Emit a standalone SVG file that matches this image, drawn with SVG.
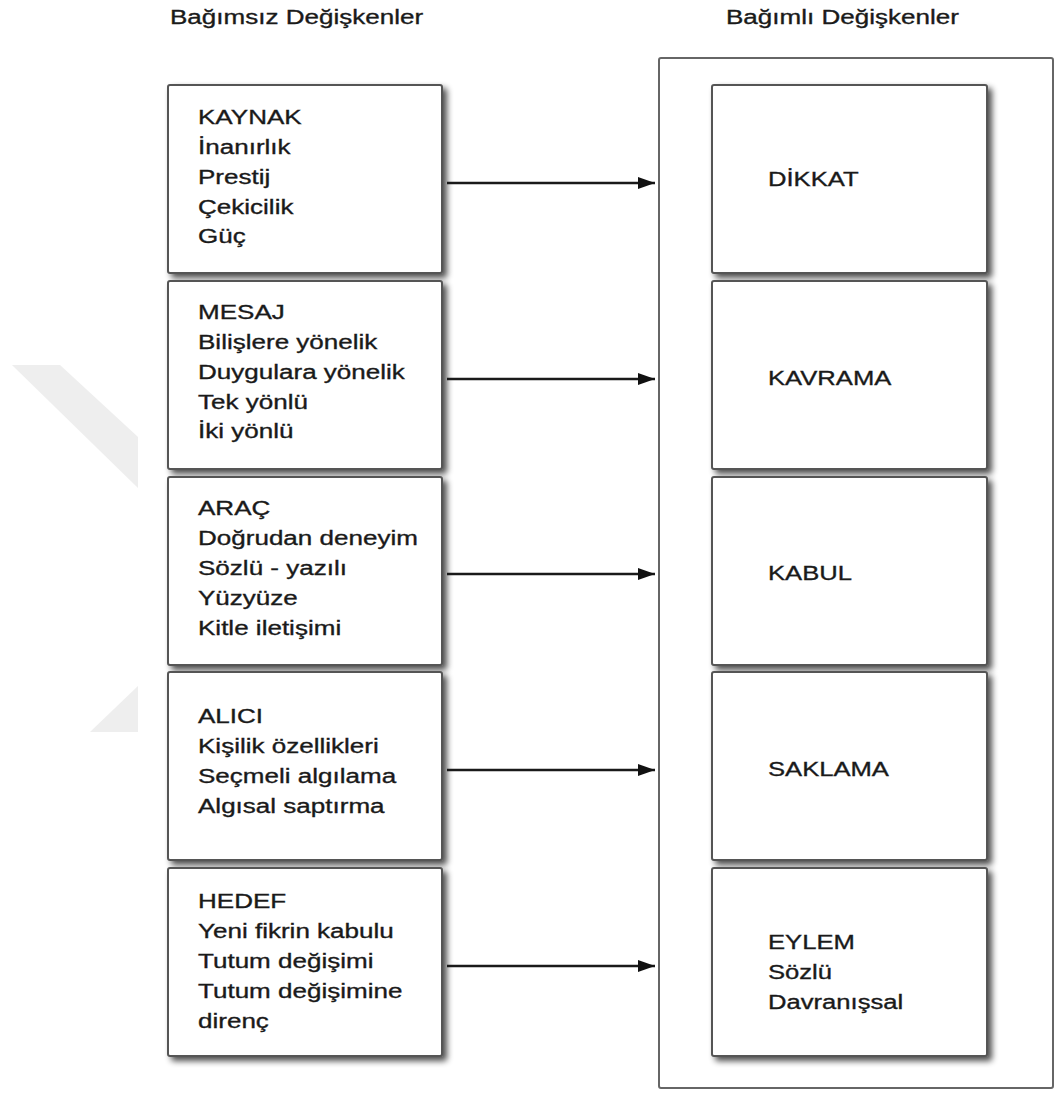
<svg xmlns="http://www.w3.org/2000/svg" width="1056" height="1093" viewBox="0 0 1056 1093">
  <defs>
    <filter id="sh" x="-10%" y="-10%" width="130%" height="130%">
      <feGaussianBlur in="SourceAlpha" stdDeviation="3"/>
      <feOffset dx="4" dy="4" result="b"/>
      <feComponentTransfer><feFuncA type="linear" slope="0.7"/></feComponentTransfer>
      <feMerge><feMergeNode/><feMergeNode in="SourceGraphic"/></feMerge>
    </filter>
    <marker id="ah" markerWidth="17" markerHeight="12" refX="17" refY="6" orient="auto" markerUnits="userSpaceOnUse">
      <path d="M0,0 L17,6 L0,12 z" fill="#111"/>
    </marker>
  </defs>
  <style>
    .box { fill: #ffffff; stroke: #555555; stroke-width: 2; filter: url(#sh); }
    .frame { fill: #ffffff; stroke: #666666; stroke-width: 2; }
    .t { font-family: "Liberation Sans", Arial, sans-serif; font-size: 21px; fill: #1a1a1a; stroke: #1a1a1a; stroke-width: 0.35; }
    .wm { fill: #eeeeee; }
    .conn { stroke: #1a1a1a; stroke-width: 2.5; fill: none; marker-end: url(#ah); }
  </style>
  <rect width="1056" height="1093" fill="#ffffff"/>

  <g id="watermark">
    <polygon class="wm" points="12,365 60,365 138,437 138,488"/>
    <polygon class="wm" points="90,732 138,686 138,732"/>
  </g>

  <g id="titles">
    <text class="t" transform="translate(170 0) scale(1.24 1)"><tspan x="0" y="24">Bağımsız Değişkenler</tspan></text>
    <text class="t" transform="translate(726 0) scale(1.24 1)"><tspan x="0" y="24">Bağımlı Değişkenler</tspan></text>
  </g>

  <g id="dependent-frame">
    <rect class="frame" x="659" y="58" width="394" height="1030" rx="2"/>
  </g>

  <g id="kaynak">
    <rect class="box" x="168" y="85" width="274" height="188" rx="2"/>
    <text class="t" transform="translate(198 0) scale(1.24 1)"><tspan x="0" y="124">KAYNAK</tspan><tspan x="0" y="154">İnanırlık</tspan><tspan x="0" y="184">Prestij</tspan><tspan x="0" y="214">Çekicilik</tspan><tspan x="0" y="243">Güç</tspan></text>
  </g>
  <g id="mesaj">
    <rect class="box" x="168" y="281" width="274" height="188" rx="2"/>
    <text class="t" transform="translate(198 0) scale(1.24 1)"><tspan x="0" y="319">MESAJ</tspan><tspan x="0" y="349">Bilişlere yönelik</tspan><tspan x="0" y="379">Duygulara yönelik</tspan><tspan x="0" y="409">Tek yönlü</tspan><tspan x="0" y="438">İki yönlü</tspan></text>
  </g>
  <g id="arac">
    <rect class="box" x="168" y="477" width="274" height="188" rx="2"/>
    <text class="t" transform="translate(198 0) scale(1.24 1)"><tspan x="0" y="515">ARAÇ</tspan><tspan x="0" y="545">Doğrudan deneyim</tspan><tspan x="0" y="575">Sözlü - yazılı</tspan><tspan x="0" y="605">Yüzyüze</tspan><tspan x="0" y="635">Kitle iletişimi</tspan></text>
  </g>
  <g id="alici">
    <rect class="box" x="168" y="672" width="274" height="188" rx="2"/>
    <text class="t" transform="translate(198 0) scale(1.24 1)"><tspan x="0" y="723">ALICI</tspan><tspan x="0" y="753">Kişilik özellikleri</tspan><tspan x="0" y="783">Seçmeli algılama</tspan><tspan x="0" y="813">Algısal saptırma</tspan></text>
  </g>
  <g id="hedef">
    <rect class="box" x="168" y="868" width="274" height="188" rx="2"/>
    <text class="t" transform="translate(198 0) scale(1.24 1)"><tspan x="0" y="908">HEDEF</tspan><tspan x="0" y="938">Yeni fikrin kabulu</tspan><tspan x="0" y="968">Tutum değişimi</tspan><tspan x="0" y="998">Tutum değişimine</tspan><tspan x="0" y="1028">direnç</tspan></text>
  </g>

  <g id="dikkat">
    <rect class="box" x="712" y="85" width="275" height="188" rx="2"/>
    <text class="t" transform="translate(768 0) scale(1.22 1)"><tspan x="0" y="186">DİKKAT</tspan></text>
  </g>
  <g id="kavrama">
    <rect class="box" x="712" y="281" width="275" height="188" rx="2"/>
    <text class="t" transform="translate(768 0) scale(1.22 1)"><tspan x="0" y="385">KAVRAMA</tspan></text>
  </g>
  <g id="kabul">
    <rect class="box" x="712" y="477" width="275" height="188" rx="2"/>
    <text class="t" transform="translate(768 0) scale(1.22 1)"><tspan x="0" y="580">KABUL</tspan></text>
  </g>
  <g id="saklama">
    <rect class="box" x="712" y="672" width="275" height="188" rx="2"/>
    <text class="t" transform="translate(768 0) scale(1.22 1)"><tspan x="0" y="776">SAKLAMA</tspan></text>
  </g>
  <g id="eylem">
    <rect class="box" x="712" y="868" width="275" height="188" rx="2"/>
    <text class="t" transform="translate(768 0) scale(1.22 1)"><tspan x="0" y="949">EYLEM</tspan><tspan x="0" y="979">Sözlü</tspan><tspan x="0" y="1009">Davranışsal</tspan></text>
  </g>

  <g id="connectors">
    <line class="conn" x1="447" y1="183" x2="655" y2="183"/>
    <line class="conn" x1="447" y1="379" x2="655" y2="379"/>
    <line class="conn" x1="447" y1="574" x2="655" y2="574"/>
    <line class="conn" x1="447" y1="770" x2="655" y2="770"/>
    <line class="conn" x1="447" y1="966" x2="655" y2="966"/>
  </g>
</svg>
